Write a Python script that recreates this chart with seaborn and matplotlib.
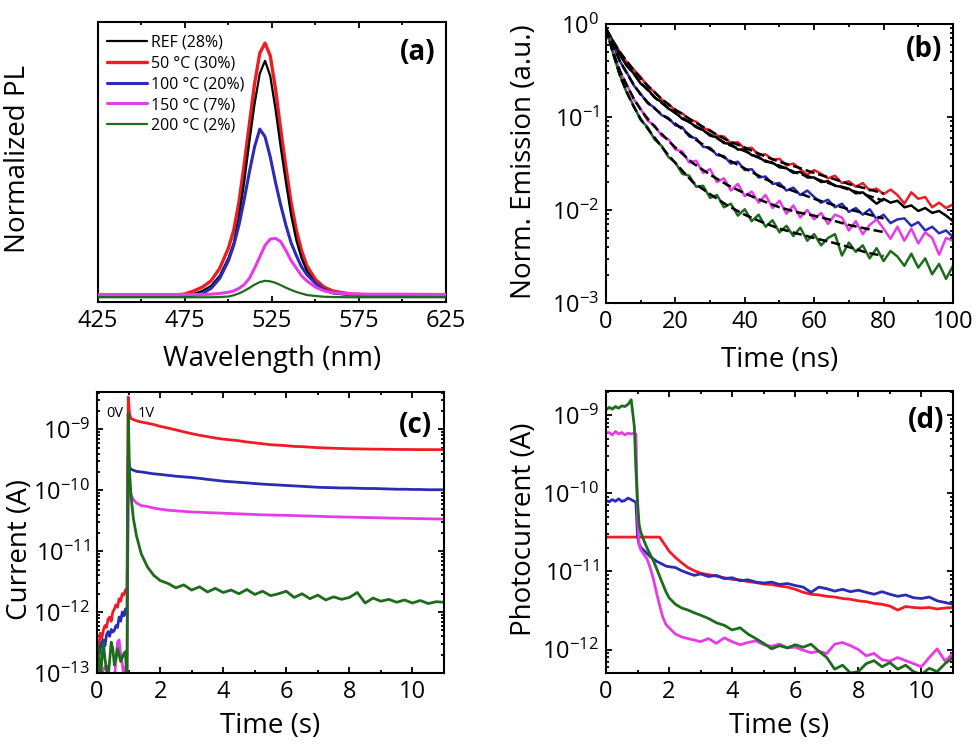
import matplotlib
matplotlib.use('Agg')
import matplotlib.pyplot as plt
import matplotlib.ticker as mticker
import seaborn as sns

sns.set_theme(style='ticks', rc={'axes.edgecolor': 'black', 'axes.linewidth': 1.5,
                                 'xtick.color': 'black', 'ytick.color': 'black',
                                 'text.color': 'black', 'axes.labelcolor': 'black'})
plt.rcParams['font.family'] = ['Open Sans', 'DejaVu Sans']
plt.rcParams['mathtext.fontset'] = 'custom'
plt.rcParams['mathtext.rm'] = 'Open Sans'
plt.rcParams['mathtext.it'] = 'Open Sans:italic'
plt.rcParams['mathtext.bf'] = 'Open Sans:bold'

RED = '#ee1c24'
BLUE = '#2b2bb5'
MAGENTA = '#e63ce6'
GREEN = '#1c6c1c'
BLACK = '#000000'

# (a) normalized PL spectra
wavelength = [425, 450, 470, 475, 480, 485, 490, 495, 500, 503, 506, 509, 512, 515, 518, 521,
              524, 527, 530, 533, 536, 539, 542, 545, 550, 555, 560, 570, 580, 600, 625]
pl_ref = [0.0, 0.0, 0.001, 0.003, 0.008, 0.02, 0.04, 0.08, 0.15, 0.21, 0.31, 0.45, 0.61, 0.76, 0.88, 0.93,
          0.87, 0.74, 0.59, 0.45, 0.32, 0.22, 0.15, 0.10, 0.05, 0.025, 0.012, 0.004, 0.002, 0.001, 0.0]
pl_50 = [0.003, 0.003, 0.004, 0.008, 0.02, 0.035, 0.06, 0.11, 0.19, 0.26, 0.37, 0.52, 0.68, 0.84, 0.96, 1.0,
         0.95, 0.82, 0.66, 0.51, 0.37, 0.26, 0.18, 0.12, 0.065, 0.035, 0.02, 0.008, 0.005, 0.003, 0.002]
pl_100 = [0.0, 0.0, 0.0, 0.0, 0.002, 0.01, 0.03, 0.07, 0.14, 0.20, 0.28, 0.38, 0.49, 0.59, 0.66, 0.63,
          0.55, 0.45, 0.36, 0.28, 0.21, 0.16, 0.115, 0.085, 0.05, 0.025, 0.012, 0.005, 0.002, 0.0, 0.0]
pl_150 = [0.006, 0.006, 0.006, 0.006, 0.006, 0.006, 0.007, 0.01, 0.015, 0.02, 0.03, 0.045, 0.07, 0.11, 0.155, 0.20,
          0.225, 0.228, 0.215, 0.18, 0.14, 0.11, 0.08, 0.06, 0.035, 0.02, 0.013, 0.008, 0.007, 0.007, 0.006]
pl_200 = [-0.005, -0.005, -0.005, -0.005, -0.005, -0.005, -0.005, -0.004, -0.002, 0.003, 0.01, 0.02, 0.032, 0.045, 0.055, 0.06,
          0.058, 0.052, 0.043, 0.033, 0.024, 0.016, 0.01, 0.004, 0.0, -0.003, -0.004, -0.005, -0.005, -0.005, -0.005]
pl_labels = ['REF (28%)', '50 °C (30%)', '100 °C (20%)', '150 °C (7%)', '200 °C (2%)']

# (b) PL decays and dashed fits
decay_t = [0, 1, 2, 3, 4, 6, 8, 10, 12, 14, 16, 18, 20, 22, 24, 26, 28, 30, 32, 34, 36, 38, 40, 42, 44,
           46, 48, 50, 52, 54, 56, 58, 60, 62, 64, 66, 68, 70, 72, 74, 76, 78, 80, 82, 84, 86, 88, 90,
           92, 94, 96, 98, 100]
decay_50 = [.891, .776, .661, .575, .501, .389, .324, .269, .214, .186, .155, .138, .1175, .1096, .0933, .0891,
            .0759, .0724, .0631, .0617, .0525, .0537, .0457, .0468, .0389, .0398, .0347, .0355, .0302, .0316,
            .0275, .0240, .0269, .0245, .0219, .0234, .0195, .0204, .0178, .0195, .0162, .0170, .0148, .0166,
            .0145, .0117, .0155, .0132, .0138, .0107, .0120, .0105, .0115]
decay_ref = [.891, .759, .646, .550, .468, .355, .295, .229, .200, .162, .145, .123, .112, .0955, .0891, .0776,
             .0724, .0631, .0603, .0525, .0513, .0447, .0447, .0389, .0372, .0331, .0324, .0288, .0282, .0251,
             .0257, .0224, .0224, .0200, .0204, .0182, .0178, .0170, .0151, .0155, .0135, .0117, .0132, .0120,
             .0126, .0107, .0112, .00977, .0105, .00933, .00977, .00871, .00759]
decay_100 = [.891, .724, .603, .490, .398, .302, .219, .178, .141, .126, .105, .0977, .0813, .0776, .0617, .0589,
             .0479, .0468, .0389, .0380, .0316, .0331, .0269, .0275, .0224, .0229, .0191, .0195, .0162, .0174,
             .0145, .0162, .0138, .0120, .0129, .0107, .0117, .00955, .0105, .00891, .0102, .00794, .00891,
             .00724, .00794, .00813, .00676, .00741, .00603, .00661, .00562, .00603, .00513]
decay_150 = [.891, .676, .513, .398, .309, .224, .155, .123, .0912, .0813, .0631, .0575, .0447, .0427, .0324,
             .0339, .0251, .0275, .0200, .0219, .0162, .0191, .0141, .0158, .0120, .0145, .0105, .0126, .00912,
             .0112, .00832, .0100, .00794, .00933, .00708, .00891, .00832, .00603, .00759, .00550, .00692,
             .00794, .00631, .00490, .00661, .00468, .00631, .00437, .00575, .00501, .00331, .00501, .00468]
decay_200 = [.891, .661, .490, .372, .282, .182, .132, .0933, .0776, .0575, .0490, .0372, .0324, .0245, .0234,
             .0178, .0182, .0135, .0145, .0107, .0117, .00871, .0102, .00759, .00891, .00661, .00776, .00575,
             .00676, .00525, .00646, .00468, .00550, .00417, .00501, .00550, .00324, .00447, .00355, .00417,
             .00302, .00389, .00282, .00363, .00316, .00251, .00339, .00240, .00302, .00204, .00263, .00182, .00251]
fit_t = [0, 1, 2, 3, 4, 6, 8, 10, 12.5, 15, 17.5, 20, 25, 30, 35, 40, 45, 50, 55, 60, 65, 70, 75, 80]
fit_50 = [0.89, 0.76, 0.66, 0.575, 0.50, 0.40, 0.32, 0.26, 0.21, 0.17, 0.141, 0.120, 0.091, 0.071, 0.056,
          0.047, 0.039, 0.033, 0.029, 0.025, 0.022, 0.019, 0.017, 0.0151]
fit_ref = [0.89, 0.76, 0.645, 0.55, 0.47, 0.36, 0.29, 0.234, 0.186, 0.151, 0.129, 0.110, 0.083, 0.065, 0.051,
           0.043, 0.035, 0.030, 0.025, 0.022, 0.019, 0.0166, 0.0145, 0.0126]
fit_100 = [0.89, 0.72, 0.60, 0.49, 0.40, 0.295, 0.224, 0.174, 0.138, 0.115, 0.098, 0.085, 0.060, 0.045, 0.035,
           0.028, 0.0224, 0.0182, 0.0155, 0.0132, 0.0115, 0.0102, 0.0091, 0.0081]
fit_150 = [0.89, 0.68, 0.51, 0.40, 0.316, 0.219, 0.158, 0.120, 0.091, 0.072, 0.058, 0.047, 0.032, 0.024, 0.0186,
           0.0151, 0.0126, 0.0107, 0.0095, 0.0087, 0.0078, 0.0069, 0.0063, 0.0058]
fit_200 = [0.89, 0.66, 0.49, 0.37, 0.28, 0.186, 0.129, 0.095, 0.071, 0.054, 0.041, 0.032, 0.020, 0.0148, 0.0112,
           0.0089, 0.0074, 0.0063, 0.0056, 0.0050, 0.0045, 0.0040, 0.0035, 0.0032]

# (c) dark current, 0 V then 1 V
time_c = [0.0, 0.05, 0.1, 0.15, 0.2, 0.25, 0.3, 0.35, 0.4, 0.45, 0.5, 0.55, 0.6, 0.65, 0.7, 0.75, 0.8, 0.85,
          0.9, 0.95, 0.99, 1.03, 1.08, 1.15, 1.25, 1.4, 1.6, 1.8, 2.0, 2.25, 2.5, 2.75, 3.0, 3.25, 3.5, 3.75,
          4.0, 4.25, 4.5, 4.75, 5.0, 5.25, 5.5, 5.75, 6.0, 6.25, 6.5, 6.75, 7.0, 7.25, 7.5, 7.75, 8.0, 8.25,
          8.5, 8.75, 9.0, 9.25, 9.5, 9.75, 10.0, 10.25, 10.5, 10.75, 11.0]
cur_50 = [1.78e-13, 2.5e-13, 4.5e-13, 3.7e-13, 5.0e-13, 6.0e-13, 5.6e-13, 7.6e-13, 8.3e-13, 7.1e-13, 1.0e-12,
          1.12e-12, 1.32e-12, 1.2e-12, 1.66e-12, 1.51e-12, 2.0e-12, 1.9e-12, 2.3e-12, 2.4e-12,
          3.4e-9, 1.8e-9, 1.5e-9, 1.45e-9, 1.38e-9, 1.32e-9, 1.26e-9, 1.2e-9,
          1.12e-9, 1.05e-9, 9.8e-10, 9.1e-10, 8.5e-10, 8.0e-10, 7.6e-10, 7.2e-10, 6.9e-10, 6.7e-10, 6.5e-10,
          6.2e-10, 6.0e-10, 5.8e-10, 5.6e-10, 5.5e-10, 5.4e-10, 5.25e-10, 5.2e-10, 5.1e-10, 5.0e-10, 4.95e-10,
          4.9e-10, 4.85e-10, 4.8e-10, 4.78e-10, 4.75e-10, 4.73e-10, 4.72e-10, 4.7e-10, 4.68e-10, 4.67e-10,
          4.66e-10, 4.65e-10, 4.65e-10, 4.64e-10, 4.63e-10]
cur_100 = [1.26e-13, 1.78e-13, 2.5e-13, 3.2e-13, 3.5e-13, 2.8e-13, 4.2e-13, 4.8e-13, 4.0e-13, 5.2e-13, 4.7e-13,
           5.0e-13, 6.0e-13, 5.6e-13, 8.3e-13, 7.1e-13, 1.0e-12, 8.7e-13, 1.12e-12, 8.9e-13,
           3.5e-10, 2.4e-10, 2.2e-10, 2.14e-10, 2.04e-10, 2.0e-10, 1.93e-10, 1.86e-10,
           1.82e-10, 1.76e-10, 1.70e-10, 1.66e-10, 1.62e-10, 1.57e-10, 1.51e-10, 1.46e-10, 1.41e-10, 1.38e-10,
           1.35e-10, 1.32e-10, 1.29e-10, 1.26e-10, 1.24e-10, 1.22e-10, 1.20e-10, 1.18e-10, 1.16e-10, 1.14e-10,
           1.12e-10, 1.11e-10, 1.10e-10, 1.09e-10, 1.09e-10, 1.08e-10, 1.07e-10, 1.07e-10, 1.06e-10, 1.05e-10,
           1.04e-10, 1.04e-10, 1.03e-10, 1.03e-10, 1.02e-10, 1.02e-10, 1.02e-10]
cur_150 = [1.6e-13, 1.12e-13, 7.1e-14, 1.0e-13, 1.12e-13, 1.26e-13, 1.32e-13, 1.12e-13, 6.3e-14, 4.0e-14,
           5.0e-14, 7.9e-14, 1.6e-13, 3.2e-13, 3.5e-13, 2.0e-13, 1.41e-13, 8.9e-14, 1.26e-13, 7.9e-14,
           1.41e-10, 1.05e-10, 8.3e-11, 7.1e-11, 6.2e-11, 5.6e-11, 5.4e-11, 5.1e-11,
           4.9e-11, 4.7e-11, 4.6e-11, 4.5e-11, 4.4e-11, 4.35e-11, 4.3e-11, 4.25e-11, 4.2e-11, 4.15e-11, 4.1e-11,
           4.05e-11, 4.0e-11, 3.95e-11, 3.92e-11, 3.9e-11, 3.87e-11, 3.84e-11, 3.8e-11, 3.77e-11, 3.74e-11,
           3.7e-11, 3.67e-11, 3.64e-11, 3.62e-11, 3.6e-11, 3.57e-11, 3.55e-11, 3.53e-11, 3.5e-11, 3.48e-11,
           3.46e-11, 3.44e-11, 3.42e-11, 3.4e-11, 3.38e-11, 3.36e-11]
cur_200 = [3.2e-13, 2.5e-13, 6.3e-14, 1.6e-13, 3.2e-13, 1.74e-13, 1.12e-13, 8.1e-14, 1.6e-13, 3.2e-13, 2.5e-13,
           1.35e-13, 1.78e-13, 2.5e-13, 2.0e-13, 1.55e-13, 1.78e-13, 2.1e-13, 2.24e-13, 7.2e-14,
           1.82e-9, 2.0e-10, 7.9e-11, 3.5e-11, 1.8e-11, 9.1e-12, 5.5e-12, 4.0e-12,
           3.3e-12, 2.95e-12, 2.5e-12, 2.8e-12, 2.3e-12, 2.6e-12, 2.14e-12, 2.45e-12, 2.1e-12, 2.3e-12, 2.0e-12,
           2.35e-12, 1.95e-12, 2.2e-12, 1.86e-12, 2.0e-12, 2.2e-12, 1.74e-12, 2.0e-12, 1.66e-12, 1.9e-12,
           1.58e-12, 1.78e-12, 1.62e-12, 1.74e-12, 2.1e-12, 1.41e-12, 1.7e-12, 1.51e-12, 1.62e-12, 1.45e-12,
           1.58e-12, 1.41e-12, 1.55e-12, 1.38e-12, 1.48e-12, 1.45e-12]

# (d) photocurrent
time_d = [0.0, 0.1, 0.2, 0.3, 0.4, 0.5, 0.6, 0.7, 0.8, 0.9, 0.95, 1.0, 1.05, 1.1, 1.2, 1.3, 1.4, 1.5, 1.6,
          1.7, 1.8, 1.9, 2.0, 2.2, 2.4, 2.6, 2.8, 3.0, 3.25, 3.5, 3.75, 4.0, 4.25, 4.5, 4.75, 5.0, 5.25, 5.5,
          5.75, 6.0, 6.25, 6.5, 6.75, 7.0, 7.25, 7.5, 7.75, 8.0, 8.25, 8.5, 8.75, 9.0, 9.25, 9.5, 9.75, 10.0,
          10.25, 10.5, 10.75, 11.0]
pc_50 = [2.75e-11, 2.75e-11, 2.75e-11, 2.75e-11, 2.75e-11, 2.75e-11, 2.75e-11, 2.75e-11, 2.75e-11, 2.75e-11,
         2.75e-11, 2.75e-11, 2.75e-11, 2.75e-11, 2.75e-11, 2.75e-11, 2.75e-11, 2.75e-11, 2.75e-11, 2.75e-11,
         2.4e-11, 2.1e-11, 1.82e-11, 1.51e-11, 1.29e-11, 1.12e-11, 1.02e-11,
         9.5e-12, 9.1e-12, 8.7e-12, 8.3e-12, 7.9e-12, 7.8e-12, 7.4e-12, 7.2e-12, 6.9e-12, 6.8e-12, 6.5e-12,
         6.3e-12, 5.9e-12, 5.4e-12, 5.1e-12, 5.0e-12, 4.8e-12, 4.7e-12, 4.5e-12, 4.4e-12, 4.2e-12, 4.1e-12,
         3.9e-12, 3.8e-12, 3.6e-12, 3.2e-12, 3.55e-12, 3.45e-12, 3.4e-12, 3.45e-12, 3.3e-12, 3.4e-12, 3.45e-12]
pc_100 = [8.1e-11, 7.8e-11, 8.3e-11, 7.9e-11, 8.5e-11, 7.9e-11, 8.1e-11, 8.7e-11, 8.3e-11, 7.9e-11,
          7.6e-11, 2.8e-11, 2.24e-11, 2.04e-11, 1.86e-11, 1.7e-11, 1.55e-11, 1.45e-11, 1.35e-11, 1.29e-11,
          1.23e-11, 1.17e-11, 1.15e-11, 1.12e-11, 1.02e-11, 9.5e-12, 8.9e-12,
          9.3e-12, 8.6e-12, 8.9e-12, 8.1e-12, 8.3e-12, 7.6e-12, 7.8e-12, 7.3e-12, 7.1e-12, 7.3e-12, 6.8e-12,
          7.0e-12, 6.6e-12, 6.3e-12, 5.4e-12, 6.3e-12, 6.0e-12, 5.6e-12, 5.9e-12, 5.5e-12, 5.75e-12, 5.4e-12,
          5.1e-12, 5.5e-12, 5.1e-12, 4.8e-12, 5.0e-12, 4.6e-12, 4.5e-12, 4.7e-12, 4.2e-12, 4.0e-12, 3.8e-12]
pc_150 = [5.9e-10, 6.0e-10, 5.6e-10, 6.2e-10, 5.75e-10, 6.0e-10, 5.6e-10, 5.9e-10, 5.75e-10, 5.9e-10,
          5.75e-10, 5.0e-11, 2.2e-11, 1.9e-11, 1.66e-11, 1.45e-11, 1.12e-11, 8.1e-12, 5.4e-12, 3.7e-12,
          2.6e-12, 2.1e-12, 1.9e-12, 1.58e-12, 1.45e-12, 1.38e-12, 1.32e-12,
          1.26e-12, 1.38e-12, 1.2e-12, 1.41e-12, 1.26e-12, 1.15e-12, 1.23e-12, 1.29e-12, 1.15e-12, 1.1e-12,
          1.17e-12, 1.05e-12, 1.07e-12, 9.8e-13, 9.1e-13, 9.5e-13, 8.9e-13, 1.17e-12, 1.23e-12, 1.12e-12,
          1.0e-12, 8.3e-13, 8.9e-13, 7.4e-13, 7.1e-13, 7.9e-13, 7.2e-13, 6.6e-13, 6.0e-13, 7.9e-13, 1.02e-12,
          7.1e-13, 8.9e-13]
pc_200 = [1.17e-9, 1.26e-9, 1.2e-9, 1.29e-9, 1.23e-9, 1.32e-9, 1.29e-9, 1.38e-9, 1.58e-9, 7.1e-10,
          2.0e-10, 7.9e-11, 4.0e-11, 3.2e-11, 2.5e-11, 2.0e-11, 1.66e-11, 1.38e-11, 1.1e-11, 8.7e-12,
          6.9e-12, 5.5e-12, 4.6e-12, 3.8e-12, 3.4e-12, 3.2e-12, 2.95e-12,
          2.75e-12, 2.5e-12, 2.2e-12, 2.04e-12, 1.78e-12, 1.9e-12, 1.58e-12, 1.38e-12, 1.2e-12, 1.02e-12,
          1.12e-12, 1.05e-12, 1.15e-12, 1.07e-12, 1.17e-12, 9.5e-13, 7.9e-13, 5.6e-13, 6.3e-13, 5.0e-13,
          5.2e-13, 6.6e-13, 7.2e-13, 6.0e-13, 6.8e-13, 5.6e-13, 6.3e-13, 5.2e-13, 4.8e-13, 5.75e-13, 5.2e-13,
          6.6e-13, 7.9e-13]

# decade ticks shown on the log axes
ticks_b = [1e-3, 1e-2, 1e-1, 1e0]
ticks_c = [1e-13, 1e-12, 1e-11, 1e-10, 1e-9]
ticks_d = [1e-12, 1e-11, 1e-10, 1e-9]

TICK_FS = 17
LABEL_FS = 20
LW = 2.0


def style_axis(ax):
    ax.tick_params(which='both', direction='in', top=True, right=True, width=1.3,
                   labelsize=TICK_FS, pad=5)
    ax.tick_params(which='major', length=4)
    ax.tick_params(which='minor', length=2.2)
    for s in ax.spines.values():
        s.set_linewidth(1.5)
        s.set_color('black')


fig = plt.figure(figsize=(9.78, 7.44), dpi=100)
fig.patch.set_facecolor('white')
ax_a = fig.add_axes([0.1002, 0.594, 0.3558, 0.3763])
ax_b = fig.add_axes([0.6196, 0.5927, 0.3548, 0.375])
ax_c = fig.add_axes([0.0992, 0.0954, 0.3548, 0.3777])
ax_d = fig.add_axes([0.6196, 0.0954, 0.3548, 0.379])

# ---- (a)
lines_a = []
for y, col, lw, z in [(pl_50, RED, 2.4, 2), (pl_ref, BLACK, 1.6, 3), (pl_100, BLUE, 2.2, 4),
                      (pl_150, MAGENTA, 2.2, 5), (pl_200, GREEN, 1.6, 6)]:
    sns.lineplot(x=wavelength, y=y, ax=ax_a, color=col, linewidth=lw, zorder=z,
                 estimator=None, sort=False, legend=False)
    lines_a.append(ax_a.lines[-1])
handles = [lines_a[1], lines_a[0], lines_a[2], lines_a[3], lines_a[4]]
ax_a.legend(handles, pl_labels, loc='upper left', bbox_to_anchor=(0.026, 0.955),
            frameon=False, fontsize=11.5, handlelength=2.5, handletextpad=0.25,
            labelspacing=0.3, borderaxespad=0, borderpad=0)
ax_a.set_xlim(425, 625)
ax_a.set_ylim(-0.024, 1.083)
ax_a.xaxis.set_major_locator(mticker.FixedLocator([425, 475, 525, 575, 625]))
ax_a.xaxis.set_minor_locator(mticker.FixedLocator([450, 500, 550, 600]))
style_axis(ax_a)
ax_a.tick_params(axis='y', which='both', left=False, right=False, labelleft=False)
ax_a.set_xlabel('Wavelength (nm)', fontsize=LABEL_FS)
ax_a.set_ylabel('Normalized PL', fontsize=LABEL_FS)
ax_a.xaxis.set_label_coords(0.5, -0.153)
ax_a.yaxis.set_label_coords(-0.19, 0.51)
ax_a.text(0.97, 0.89, '(a)', transform=ax_a.transAxes, ha='right', va='center',
          fontsize=20, fontweight='bold')

# ---- (b)
ax_b.set_yscale('log')
for y, col in [(decay_50, RED), (decay_ref, BLACK), (decay_100, BLUE), (decay_150, MAGENTA),
               (decay_200, GREEN)]:
    sns.lineplot(x=decay_t, y=y, ax=ax_b, color=col, linewidth=1.8, estimator=None,
                 sort=False, legend=False)
for y in [fit_50, fit_ref, fit_100, fit_150, fit_200]:
    sns.lineplot(x=fit_t, y=y, ax=ax_b, color=BLACK, linewidth=1.8, linestyle='--',
                 estimator=None, sort=False, legend=False)
ax_b.set_xlim(0, 100)
ax_b.set_ylim(1e-3, 1)
ax_b.xaxis.set_major_locator(mticker.MultipleLocator(20))
ax_b.xaxis.set_minor_locator(mticker.MultipleLocator(10))
ax_b.yaxis.set_major_locator(mticker.FixedLocator(ticks_b))
style_axis(ax_b)
ax_b.set_xlabel('Time (ns)', fontsize=LABEL_FS)
ax_b.set_ylabel('Norm. Emission (a.u.)', fontsize=LABEL_FS)
ax_b.xaxis.set_label_coords(0.5, -0.153)
ax_b.yaxis.set_label_coords(-0.195, 0.506)
ax_b.text(0.968, 0.907, '(b)', transform=ax_b.transAxes, ha='right', va='center',
          fontsize=20, fontweight='bold')

# ---- (c)
ax_c.set_yscale('log')
for y, col in [(cur_50, RED), (cur_100, BLUE), (cur_150, MAGENTA), (cur_200, GREEN)]:
    sns.lineplot(x=time_c, y=y, ax=ax_c, color=col, linewidth=LW, estimator=None,
                 sort=False, legend=False)
ax_c.set_xlim(0, 11)
ax_c.set_ylim(1e-13, 4.1e-9)
ax_c.xaxis.set_major_locator(mticker.MultipleLocator(2))
ax_c.xaxis.set_minor_locator(mticker.MultipleLocator(1))
ax_c.yaxis.set_major_locator(mticker.FixedLocator(ticks_c))
style_axis(ax_c)
ax_c.set_xlabel('Time (s)', fontsize=LABEL_FS)
ax_c.set_ylabel('Current (A)', fontsize=LABEL_FS)
ax_c.xaxis.set_label_coords(0.5, -0.138)
ax_c.yaxis.set_label_coords(-0.183, 0.438)
ax_c.text(0.55, 1.8e-9, '0V', ha='center', va='center', fontsize=10.5)
ax_c.text(1.55, 1.8e-9, '1V', ha='center', va='center', fontsize=10.5)
ax_c.text(0.965, 0.88, '(c)', transform=ax_c.transAxes, ha='right', va='center',
          fontsize=20, fontweight='bold')

# ---- (d)
ax_d.set_yscale('log')
for y, col in [(pc_50, RED), (pc_100, BLUE), (pc_150, MAGENTA), (pc_200, GREEN)]:
    sns.lineplot(x=time_d, y=y, ax=ax_d, color=col, linewidth=LW, estimator=None,
                 sort=False, legend=False)
ax_d.set_xlim(0, 11)
ax_d.set_ylim(5e-13, 2.04e-9)
ax_d.xaxis.set_major_locator(mticker.MultipleLocator(2))
ax_d.xaxis.set_minor_locator(mticker.MultipleLocator(1))
ax_d.yaxis.set_major_locator(mticker.FixedLocator(ticks_d))
style_axis(ax_d)
ax_d.set_xlabel('Time (s)', fontsize=LABEL_FS)
ax_d.set_ylabel('Photocurrent (A)', fontsize=LABEL_FS)
ax_d.xaxis.set_label_coords(0.5, -0.138)
ax_d.yaxis.set_label_coords(-0.195, 0.51)
ax_d.text(0.974, 0.896, '(d)', transform=ax_d.transAxes, ha='right', va='center',
          fontsize=20, fontweight='bold')

for ax in [ax_b, ax_c, ax_d]:
    ax.yaxis.set_major_formatter(mticker.LogFormatterMathtext())
    ax.yaxis.set_minor_locator(mticker.LogLocator(base=10, subs=range(2, 10), numticks=20))
    ax.yaxis.set_minor_formatter(mticker.NullFormatter())

fig.savefig('out.png', dpi=100, facecolor='white')
